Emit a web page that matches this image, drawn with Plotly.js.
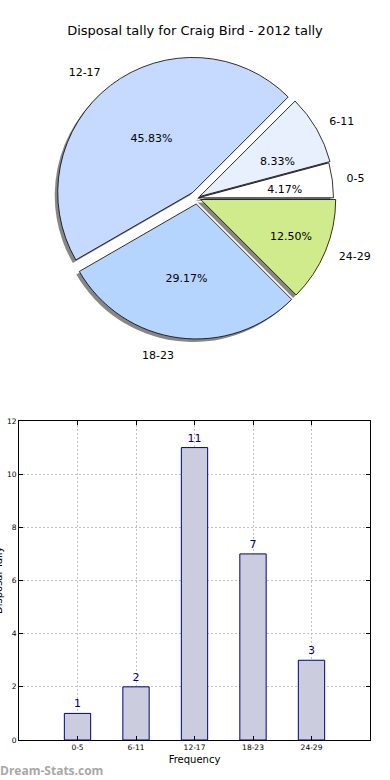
<!DOCTYPE html>
<html>
<head>
<meta charset="utf-8">
<script src="https://cdn.plot.ly/plotly-3.0.1.min.js"></script>
<style>html,body{margin:0;padding:0;background:#fff}#chart{width:390px;height:780px}</style>
</head>
<body>
<div id="chart"></div>
<script>
// ---- data ----
var categories = ["0-5", "6-11", "12-17", "18-23", "24-29"];
var tallies = [1, 2, 11, 7, 3];
var sliceColors = ["#ffffff", "#e8f0fe", "#c6daff", "#b5d5ff", "#cfeb8b"];
var chartTitle = "Disposal tally for Craig Bird - 2012 tally";
var yTicks = [0, 2, 4, 6, 8, 10, 12];

// ---- layout helpers (style / geometry, not data) ----
var W = 390, H = 780;
function px(x){return x / W;}
function py(y){return 1 - y / H;}
var pullPx = [1.5, 3, 7, 6, 4];          // explode offsets in pixels
var CX = 197, CY = 198, R = 135;         // pie centre & radius (px)
// which slices show their percentage inside the main pie vs. via the inner helper ring
var pctInside = ["none", "none", "inside", "inside", "inside"];
var pctHelper = ["outside", "outside", "none", "none", "none"];

function pieSpec(r, dx, dy){
  var pulls = pullPx.map(function(p){return p / r;});
  var maxP = Math.max.apply(null, pulls);
  var half = r * (1 + maxP);
  return {
    pull: pulls,
    domain: {x: [px(CX + dx - half), px(CX + dx + half)],
             y: [py(CY + dy + half), py(CY + dy - half)]}
  };
}

var font = "DejaVu Sans, sans-serif";
// counterclockwise in plotly: first slice ends at `rotation`; start first slice at 3 o'clock
var total = tallies.reduce(function(a, b){return a + b;}, 0);
var rot = 90 - 360 * tallies[0] / total;
var common = {type: "pie", labels: categories, values: tallies, sort: false,
              direction: "counterclockwise", rotation: rot, showlegend: false};
function mk(extra, spec){
  var o = {}; var k;
  for (k in common) o[k] = common[k];
  for (k in extra) o[k] = extra[k];
  o.pull = spec.pull; o.domain = spec.domain;
  return o;
}
var clear = categories.map(function(){return "rgba(0,0,0,0)";});

var shadow = mk({
  marker: {colors: categories.map(function(){return "rgba(105,105,105,0.8)";}), line: {width: 0}},
  textinfo: "none", hoverinfo: "skip"
}, pieSpec(R, -3, 3));

var main = mk({
  marker: {colors: sliceColors, line: {color: "#000000", width: 0.8}},
  texttemplate: "%{percent:.2%}", textposition: pctInside, insidetextorientation: "horizontal",
  insidetextfont: {family: font, size: 11, color: "#000"}
}, pieSpec(R, 0, 0));

var pctTrace = mk({
  marker: {colors: clear, line: {width: 0}},
  texttemplate: "%{percent:.2%}", textposition: pctHelper,
  outsidetextfont: {family: font, size: 11, color: "#000"}, hoverinfo: "skip"
}, pieSpec(66, 0, 0));

var labelsTrace = mk({
  marker: {colors: clear, line: {width: 0}},
  texttemplate: "%{label}", textposition: "outside",
  outsidetextfont: {family: font, size: 11, color: "#000"}, hoverinfo: "skip"
}, pieSpec(146, 0, 0));

var bars = {
  type: "bar", x: [0,1,2,3,4], y: tallies, width: 0.45,
  marker: {color: "#ccccdf", line: {color: "#000080", width: 1}},
  text: tallies.map(String), textposition: "outside", cliponaxis: false,
  textfont: {family: font, size: 11, color: "#000080"},
  xaxis: "x", yaxis: "y", showlegend: false, hoverinfo: "x+y"
};

var gridStyle = {showgrid: true, gridcolor: "#c0c0c0", griddash: "2px,2px", gridwidth: 1, zeroline: false};
var axStyle = {tickfont: {family: font, size: 7.5}, ticks: "inside", ticklen: 4, tickcolor: "#000",
               showline: true, linecolor: "#000", linewidth: 1, mirror: "ticks"};
function merge(a, b, c){var o = {}, k; for (k in a) o[k] = a[k]; for (k in b) o[k] = b[k]; for (k in c) o[k] = c[k]; return o;}

var layout = {
  width: W, height: H, margin: {l: 0, r: 0, t: 0, b: 0},
  paper_bgcolor: "#fff", plot_bgcolor: "#fff",
  font: {family: font, color: "#000"},
  showlegend: false,
  title: {text: chartTitle, x: 0.5, xanchor: "center", y: py(30), yanchor: "middle",
          font: {family: font, size: 13, color: "#000"}},
  xaxis: merge(axStyle, gridStyle, {domain: [px(19), px(370)], range: [-1, 5], tickvals: [0,1,2,3,4], ticktext: categories,
          title: {text: "Frequency", font: {family: font, size: 10}, standoff: 4}}),
  yaxis: merge(axStyle, gridStyle, {domain: [py(740), py(421)], range: [0, 12], tickvals: yTicks}),
  bargap: 0,
  annotations: [
    {text: "Disposal Tally", textangle: -90, xref: "paper", yref: "paper", x: 0, y: py(580),
     xanchor: "center", yanchor: "middle", xshift: -2, showarrow: false,
     font: {family: font, size: 10, color: "#000"}},
    {text: "<b>Dream-Stats.com</b>", xref: "paper", yref: "paper", x: 0, y: py(770),
     xanchor: "left", yanchor: "middle", xshift: -2, showarrow: false,
     font: {family: "Open Sans, sans-serif", size: 12, color: "#a8a8a8"}}
  ]
};

Plotly.newPlot("chart", [shadow, main, pctTrace, labelsTrace, bars], layout, {displayModeBar: false, staticPlot: true});
</script>
</body>
</html>
